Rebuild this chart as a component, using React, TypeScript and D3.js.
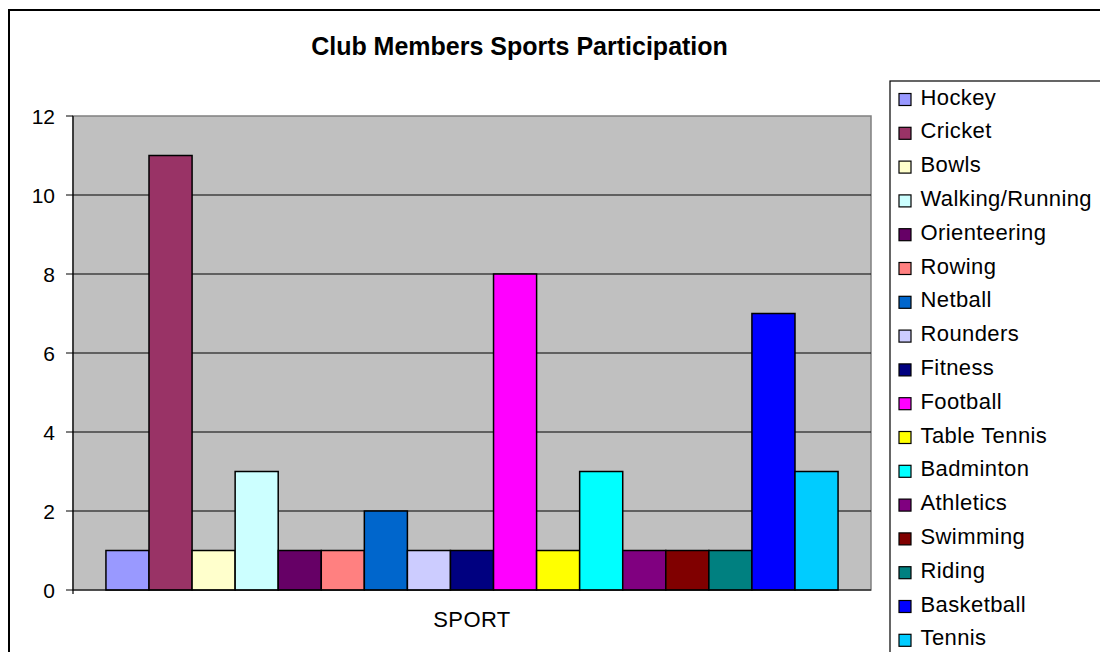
import React from "react";
import * as d3 from "d3";

const sports = [
  "Hockey", "Cricket", "Bowls", "Walking/Running", "Orienteering", "Rowing",
  "Netball", "Rounders", "Fitness", "Football", "Table Tennis", "Badminton",
  "Athletics", "Swimming", "Riding", "Basketball", "Tennis",
];
const counts = [1, 11, 1, 3, 1, 1, 2, 1, 1, 8, 1, 3, 1, 1, 1, 7, 3];
const colors = [
  "#9999FF", "#993366", "#FFFFCC", "#CCFFFF", "#660066", "#FF8080",
  "#0066CC", "#CCCCFF", "#000080", "#FF00FF", "#FFFF00", "#00FFFF",
  "#800080", "#800000", "#008080", "#0000FF", "#00CCFF",
];
const categories = ["SPORT"];
const yTicks = [0, 2, 4, 6, 8, 10, 12];
const title = "Club Members Sports Participation";

export default function App() {
  const W = 1100, H = 652;
  const plot = { left: 73, right: 871, top: 116, bottom: 590 };
  const y = d3.scaleLinear().domain([0, 12]).range([plot.bottom, plot.top]);
  const x0 = d3.scaleBand().domain(categories).range([plot.left, plot.right]).paddingOuter(0.045).paddingInner(0);
  const x1 = d3.scaleBand().domain(sports).range([0, x0.bandwidth()]);
  const font = "Arial, 'Liberation Sans', sans-serif";
  const legendY0 = 104.5;
  const legendStep = 33.8;
  return (
    <svg width={W} height={H} style={{ position: "absolute", left: 0, top: 0, background: "#fff" }} fontFamily={font}>
      <rect x={9} y={10} width={1200} height={800} fill="#fff" stroke="#000" strokeWidth={2} />
      <text x={519.5} y={55} textAnchor="middle" fontSize={25} fontWeight="bold" fill="#000">{title}</text>
      <rect x={plot.left} y={plot.top} width={plot.right - plot.left} height={plot.bottom - plot.top} fill="#C0C0C0" stroke="#808080" strokeWidth={1.5} />
      {yTicks.filter((t) => t > 0 && t < 12).map((t) => (
        <line key={"g" + t} x1={plot.left} x2={plot.right} y1={y(t)} y2={y(t)} stroke="#000" strokeWidth={1} />
      ))}
      {sports.map((s, i) => {
        const bx = (x0("SPORT") as number) + (x1(s) as number);
        return (
          <rect key={s} x={bx} y={y(counts[i])} width={x1.bandwidth()} height={y(0) - y(counts[i])}
            fill={colors[i]} stroke="#000" strokeWidth={1.5} />
        );
      })}
      <line x1={plot.left} x2={plot.left} y1={plot.top} y2={plot.bottom + 4} stroke="#000" strokeWidth={1.2} />
      <line x1={plot.left} x2={plot.right} y1={plot.bottom} y2={plot.bottom} stroke="#000" strokeWidth={1.2} />
      {yTicks.map((t) => (
        <g key={"t" + t}>
          <line x1={plot.left - 7} x2={plot.left} y1={y(t)} y2={y(t)} stroke="#000" strokeWidth={1} />
          <text x={55} y={y(t)} dy="0.36em" textAnchor="end" fontSize={21} fill="#000">{t}</text>
        </g>
      ))}
      <text x={(x0("SPORT") as number) + x0.bandwidth() / 2} y={627} textAnchor="middle" fontSize={22} letterSpacing={0.4} fill="#000">SPORT</text>
      <rect x={890} y={81} width={300} height={700} fill="#fff" stroke="#000" strokeWidth={1.2} />
      {sports.map((s, i) => {
        const ty = legendY0 + i * legendStep;
        return (
          <g key={"l" + s}>
            <rect x={899} y={ty - 11} width={12} height={12} fill={colors[i]} stroke="#000" strokeWidth={1.2} />
            <text x={920.5} y={ty} fontSize={22} letterSpacing={0.4} fill="#000">{s}</text>
          </g>
        );
      })}
    </svg>
  );
}
